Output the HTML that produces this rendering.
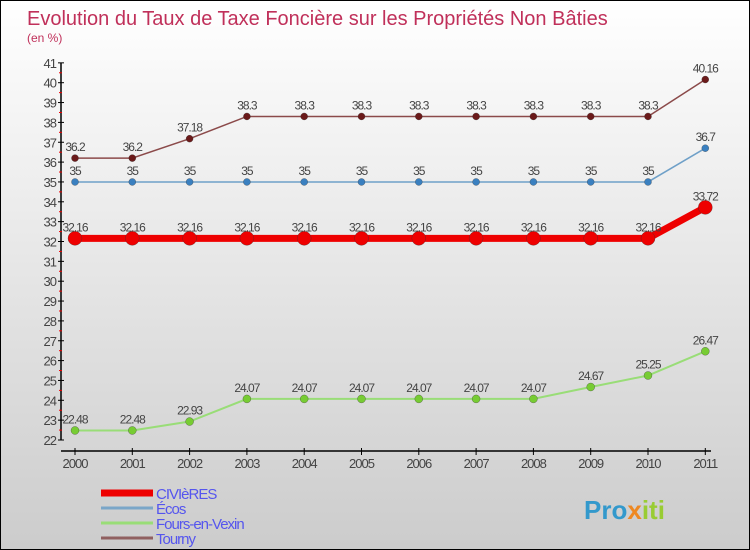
<!DOCTYPE html>
<html><head><meta charset="utf-8"><style>
body{margin:0}
#c{width:748px;height:548px;border:1px solid #000;background:linear-gradient(#ffffff,#cccccc);position:relative;font-family:"Liberation Sans",sans-serif;overflow:hidden}
svg{position:absolute;left:0;top:0}
</style></head><body>
<div id="c">
<svg id="s" width="748" height="548"></svg>
</div>
<script>
const years=["2000","2001","2002","2003","2004","2005","2006","2007","2008","2009","2010","2011"];
const civieres=[32.16,32.16,32.16,32.16,32.16,32.16,32.16,32.16,32.16,32.16,32.16,33.72];
const ecos=[35,35,35,35,35,35,35,35,35,35,35,36.7];
const fours=[22.48,22.48,22.93,24.07,24.07,24.07,24.07,24.07,24.07,24.67,25.25,26.47];
const tourny=[36.2,36.2,37.18,38.3,38.3,38.3,38.3,38.3,38.3,38.3,38.3,40.16];
const yTicks=[22,23,24,25,26,27,28,29,30,31,32,33,34,35,36,37,38,39,40,41];
const NS="http://www.w3.org/2000/svg";
const s=document.getElementById('s');
function X(i){return 74+i*57.3}
function Y(v){return 439-(v-22)*19.85}
function el(t,a,txt,p){const e=document.createElementNS(NS,t);for(const k in a)e.setAttribute(k,a[k]);if(txt!==undefined)e.textContent=txt;(p||s).appendChild(e);return e}
let e;
e=el('text',{x:26,y:24,'font-size':20,fill:'#c0305a'},'Evolution du Taux de Taxe Foncière sur les Propriétés Non Bâties');

e=el('text',{x:26,y:41,'font-size':12,fill:'#c0305a'},'(en %)');

e=el('line',{x1:60,y1:Y(41),x2:60,y2:Y(22),stroke:'#000','stroke-width':1.5});

e=el('line',{x1:60,y1:450,x2:710,y2:450,stroke:'#000','stroke-width':1.5});

yTicks.forEach(v=>{
 e=el('line',{x1:57,y1:Y(v),x2:63,y2:Y(v),stroke:'#000'});
 
 e=el('text',{x:55,y:Y(v)+5,'font-size':13,fill:'#444','text-anchor':'end','letter-spacing':'-1'},String(v));
 
 if(v<41){e=el('line',{x1:58,y1:Y(v+0.5),x2:61,y2:Y(v+0.5),stroke:'#e00'});
 }
});
years.forEach((y,i)=>{
 e=el('line',{x1:X(i),y1:447,x2:X(i),y2:454,stroke:'#000'});
 
 e=el('text',{x:X(i),y:467,'font-size':13,fill:'#444','text-anchor':'middle','letter-spacing':'-1'},y);
 
});
function series(data,color,dot,w,r,name){
 e=el('polyline',{points:data.map((v,i)=>X(i)+','+Y(v)).join(' '),fill:'none',stroke:color,'stroke-width':w});
 
 data.forEach((v,i)=>{
  e=el('circle',{cx:X(i),cy:Y(v),r:r,fill:dot,stroke:'#333','stroke-width':0.3});
  
  e=el('text',{x:X(i),y:Y(v)-7,'font-size':12,fill:'#444','text-anchor':'middle','letter-spacing':'-1'},String(v));
  
 });
}
series(tourny,'#8b4a4a','#6b1a1a',1.5,3.5,'tourny');
series(ecos,'#6fa0c8','#3a80c0',1.5,3.5,'ecos');
series(fours,'#99dd77','#77cc33',2,4,'fours-en-vexin');
series(civieres,'#ee0000','#ee0000',7,7,'civieres');
const leg=[['CIVIèRES','#ee0000',7],['Écos','#7aa6c8',3],['Fours-en-Vexin','#99dd77',3],['Tourny','#906060',3]];
leg.forEach((l,i)=>{
 const y=492+i*15;
 e=el('line',{x1:100,y1:y,x2:152,y2:y,stroke:l[1],'stroke-width':l[2]});
 
 e=el('text',{x:155,y:y+6,'font-size':15,fill:'#5555ee','letter-spacing':'-1'},l[0]);
 
});
const logo=el('text',{x:583,y:518,'font-size':26,'font-weight':'bold'});


el('tspan',{fill:'#3399cc'},'Pro',logo);
el('tspan',{fill:'#ee8822'},'x',logo);
el('tspan',{fill:'#99cc33'},'iti',logo);
</script>
</body></html>
